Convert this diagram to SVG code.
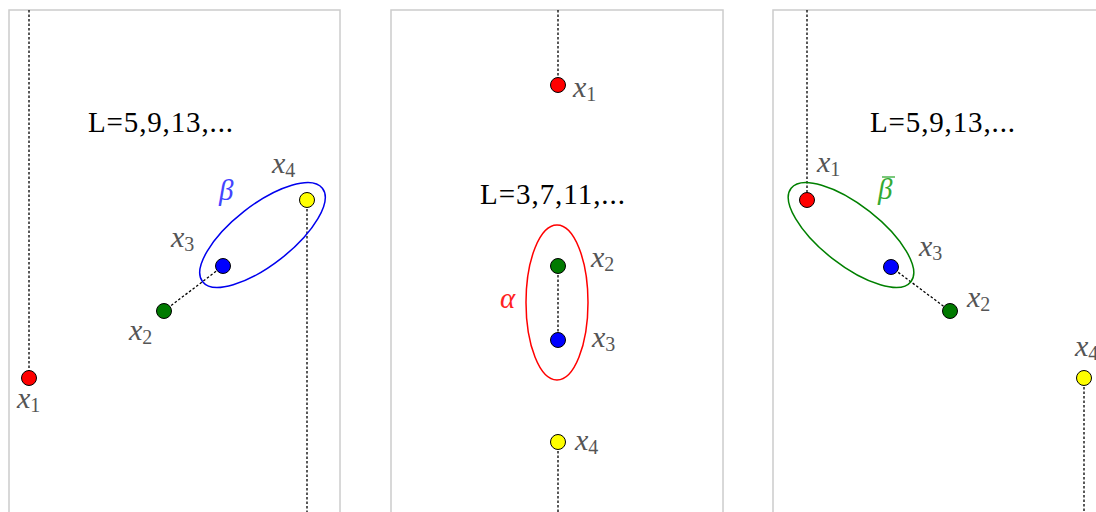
<svg xmlns="http://www.w3.org/2000/svg" width="1096" height="512" viewBox="0 0 1096 512">
<style>
.panel{fill:#fff;stroke:#cccccc;stroke-width:1.5}
.dash{stroke:#000;stroke-width:1.3;stroke-dasharray:2.5,2;fill:none}
.node{stroke:#000;stroke-width:1}
.lbl{font-family:"Liberation Serif","Times New Roman",serif;font-size:30px;fill:#555}
.lbl .v{font-style:italic}
.lbl .s{font-size:20px}
.title{font-family:"Liberation Serif","Times New Roman",serif;font-size:29px;fill:#000}
.greek{font-family:"Liberation Serif","Times New Roman",serif;font-size:29px;font-style:italic}
</style>
<rect width="1096" height="512" fill="#fff"/>
<g id="panel1">
<rect class="panel" x="9" y="10" width="331" height="520"/>
<text class="title" x="88" y="132" textLength="145">L=5,9,13,...</text>
</g>
<g id="panel2">
<rect class="panel" x="391" y="10" width="332" height="520"/>
<text class="title" x="480" y="204" textLength="145">L=3,7,11,...</text>
</g>
<g id="panel3">
<rect class="panel" x="773" y="10" width="332" height="520"/>
<text class="title" x="870" y="132" textLength="145">L=5,9,13,...</text>
</g>
<g id="connectors">
<line class="dash" x1="29" y1="10" x2="29" y2="378"/>
<line class="dash" x1="164" y1="311" x2="223" y2="266"/>
<line class="dash" x1="307" y1="200" x2="307" y2="512"/>
<line class="dash" x1="558" y1="10" x2="558" y2="85"/>
<line class="dash" x1="558" y1="266" x2="558" y2="340"/>
<line class="dash" x1="558" y1="442" x2="558" y2="512"/>
<line class="dash" x1="807" y1="10" x2="807" y2="200"/>
<line class="dash" x1="891" y1="267" x2="950" y2="311"/>
<line class="dash" x1="1084" y1="378" x2="1084" y2="512"/>
</g>
<g id="beta">
<ellipse cx="262.5" cy="235" rx="76" ry="30" transform="rotate(-38 262.5 235)" fill="none" stroke="#0000ee" stroke-width="1.5"/>
<text class="greek" x="219" y="200" fill="#4444ff">β</text>
</g>
<g id="alpha">
<ellipse cx="557" cy="302.5" rx="31" ry="77.5" fill="none" stroke="#ff0000" stroke-width="1.5"/>
<text class="greek" x="500" y="308" fill="#ff2222">α</text>
</g>
<g id="betabar">
<ellipse cx="851" cy="235" rx="76" ry="30" transform="rotate(38 851 235)" fill="none" stroke="#008000" stroke-width="1.5"/>
<text class="greek" x="878" y="199" fill="#33aa33">β</text>
<line x1="882" y1="177" x2="895" y2="177" stroke="#33aa33" stroke-width="1.3"/>
</g>
<g id="p1-x1"><circle class="node" cx="29" cy="378" r="7.5" fill="#ff0000"/><text class="lbl" x="17" y="408"><tspan class="v">x</tspan><tspan class="s" dy="4">1</tspan></text></g>
<g id="p1-x2"><circle class="node" cx="164" cy="311" r="7.5" fill="#007a00"/><text class="lbl" x="129" y="340"><tspan class="v">x</tspan><tspan class="s" dy="4">2</tspan></text></g>
<g id="p1-x3"><circle class="node" cx="223" cy="266" r="7.5" fill="#0000ff"/><text class="lbl" x="171" y="247"><tspan class="v">x</tspan><tspan class="s" dy="4">3</tspan></text></g>
<g id="p1-x4"><circle class="node" cx="307" cy="200" r="7.5" fill="#ffff00"/><text class="lbl" x="272" y="173"><tspan class="v">x</tspan><tspan class="s" dy="4">4</tspan></text></g>
<g id="p2-x1"><circle class="node" cx="558" cy="85" r="7.5" fill="#ff0000"/><text class="lbl" x="573" y="97"><tspan class="v">x</tspan><tspan class="s" dy="4">1</tspan></text></g>
<g id="p2-x2"><circle class="node" cx="558" cy="266" r="7.5" fill="#007a00"/><text class="lbl" x="591" y="267"><tspan class="v">x</tspan><tspan class="s" dy="4">2</tspan></text></g>
<g id="p2-x3"><circle class="node" cx="558" cy="340" r="7.5" fill="#0000ff"/><text class="lbl" x="592" y="347"><tspan class="v">x</tspan><tspan class="s" dy="4">3</tspan></text></g>
<g id="p2-x4"><circle class="node" cx="558" cy="442" r="7.5" fill="#ffff00"/><text class="lbl" x="575" y="450"><tspan class="v">x</tspan><tspan class="s" dy="4">4</tspan></text></g>
<g id="p3-x1"><circle class="node" cx="807" cy="200" r="7.5" fill="#ff0000"/><text class="lbl" x="817" y="172"><tspan class="v">x</tspan><tspan class="s" dy="4">1</tspan></text></g>
<g id="p3-x3"><circle class="node" cx="891" cy="267" r="7.5" fill="#0000ff"/><text class="lbl" x="919" y="256"><tspan class="v">x</tspan><tspan class="s" dy="4">3</tspan></text></g>
<g id="p3-x2"><circle class="node" cx="950" cy="311" r="7.5" fill="#007a00"/><text class="lbl" x="967" y="307"><tspan class="v">x</tspan><tspan class="s" dy="4">2</tspan></text></g>
<g id="p3-x4"><circle class="node" cx="1084" cy="378" r="7.5" fill="#ffff00"/><text class="lbl" x="1075" y="356"><tspan class="v">x</tspan><tspan class="s" dy="4">4</tspan></text></g>
</svg>
